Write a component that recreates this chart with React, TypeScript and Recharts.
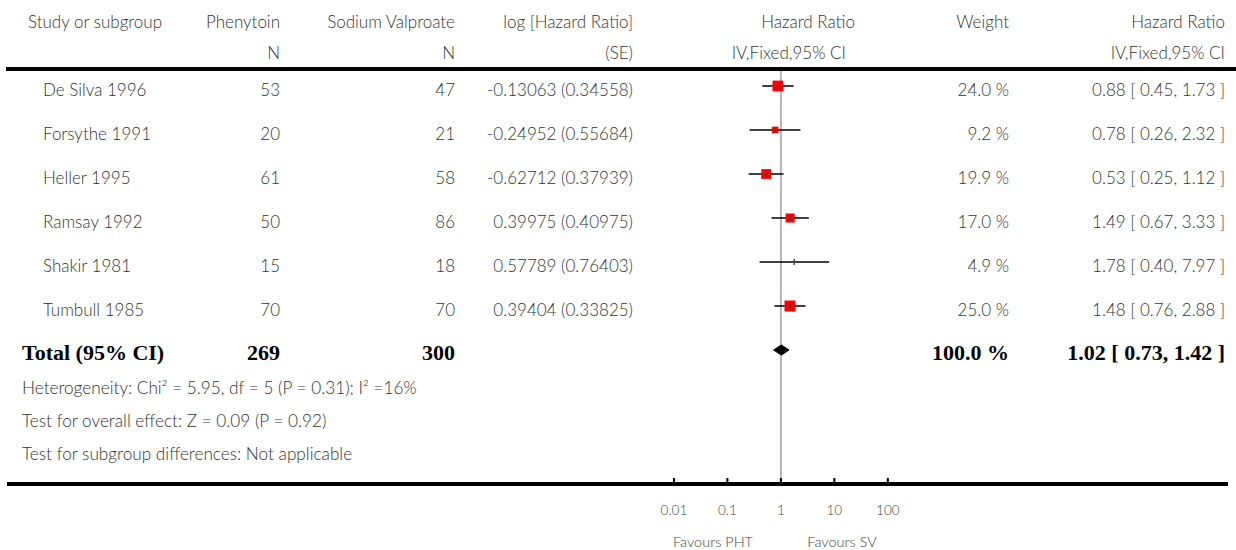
import React from "react";
import { ComposedChart, Scatter, Area, XAxis, YAxis, ErrorBar, ReferenceLine } from "recharts";

// per-study values
const studies = ["De Silva 1996", "Forsythe 1991", "Heller 1995", "Ramsay 1992", "Shakir 1981", "Tumbull 1985"];
const phenytoinN = [53, 20, 61, 50, 15, 70];
const valproateN = [47, 21, 58, 86, 18, 70];
const logHazard = ["-0.13063", "-0.24952", "-0.62712", "0.39975", "0.57789", "0.39404"];
const logHazardSE = ["0.34558", "0.55684", "0.37939", "0.40975", "0.76403", "0.33825"];
const weights = [24.0, 9.2, 19.9, 17.0, 4.9, 25.0];
const hazardRatio = [0.88, 0.78, 0.53, 1.49, 1.78, 1.48];
const ciLower = [0.45, 0.26, 0.25, 0.67, 0.4, 0.76];
const ciUpper = [1.73, 2.32, 1.12, 3.33, 7.97, 2.88];

// pooled result
const totalN = [269, 300];
const totalWeight = 100.0;
const totalHR = 1.02;
const totalLower = 0.73;
const totalUpper = 1.42;

const axisTicks = [0.01, 0.1, 1, 10, 100];

const footnotes = [
  "Heterogeneity: Chi\u00b2 = 5.95, df = 5 (P = 0.31); I\u00b2 =16%",
  "Test for overall effect: Z = 0.09 (P = 0.92)",
  "Test for subgroup differences: Not applicable",
];

const W = 1236;
const H = 550;
const SANS = "Lato, 'Open Sans', sans-serif";
const SERIF = "'Liberation Serif', 'DejaVu Serif', serif";
const INK = "#333";

// column anchors (px)
const COL_PHT = 280;
const COL_SV = 455;
const COL_LOG = 633;
const COL_WT = 1009;
const COL_HR = 1225;

const fmt = (v: number) => v.toFixed(2);

const studyPoints = studies.map((s, i) => {
  const x = Math.log10(hazardRatio[i]);
  return {
    x,
    y: i,
    w: weights[i],
    err: [x - Math.log10(ciLower[i]), Math.log10(ciUpper[i]) - x],
  };
});

const totalRow = studies.length;
const diamond = [
  { x: Math.log10(totalLower), d: [totalRow, totalRow] },
  { x: Math.log10(totalHR), d: [totalRow - 0.115, totalRow + 0.115] },
  { x: Math.log10(totalUpper), d: [totalRow, totalRow] },
];

const Box = (props: any) => {
  const { cx, cy, payload } = props;
  if (payload.w < 5) return <g />;
  const s = 2.2 * Math.sqrt(payload.w);
  return <rect x={cx - s / 2} y={cy - s / 2} width={s} height={s} fill="#ff0000" />;
};

const Mid = (props: any) => {
  const { cx, cy } = props;
  return <line x1={cx} x2={cx} y1={cy - 3} y2={cy + 3} stroke="#444" strokeWidth={1.5} />;
};

const RowTick = (props: any) => {
  const { y, payload } = props;
  const i = payload.value;
  const base = y + 10;
  if (i < studies.length) {
    return (
      <g fontFamily={SANS} fontSize={17} fontWeight={300} fill={INK}>
        <text x={43} y={base}>{studies[i]}</text>
        <text x={COL_PHT} y={base} textAnchor="end">{phenytoinN[i]}</text>
        <text x={COL_SV} y={base} textAnchor="end">{valproateN[i]}</text>
        <text x={COL_LOG} y={base} textAnchor="end">{`${logHazard[i]} (${logHazardSE[i]})`}</text>
        <text x={COL_WT} y={base} textAnchor="end">{`${weights[i].toFixed(1)} %`}</text>
        <text x={COL_HR} y={base} textAnchor="end">
          {`${fmt(hazardRatio[i])} [ ${fmt(ciLower[i])}, ${fmt(ciUpper[i])} ]`}
        </text>
      </g>
    );
  }
  return (
    <g fontFamily={SERIF} fontSize={22} fontWeight="bold" fill="#000">
      <text x={22} y={base}>Total (95% CI)</text>
      <text x={COL_PHT} y={base} textAnchor="end">{totalN[0]}</text>
      <text x={COL_SV} y={base} textAnchor="end">{totalN[1]}</text>
      <text x={COL_WT} y={base} textAnchor="end">{`${totalWeight.toFixed(1)} %`}</text>
      <text x={COL_HR} y={base} textAnchor="end">
        {`${fmt(totalHR)} [ ${fmt(totalLower)}, ${fmt(totalUpper)} ]`}
      </text>
    </g>
  );
};

const LogTick = (props: any) => {
  const { x, y, index } = props;
  return (
    <g>
      <line x1={x} x2={x} y1={y - 6} y2={y} stroke="#000" strokeWidth={2} />
      <text x={x} y={y + 31} textAnchor="middle" fontFamily={SANS} fontWeight={300} fontSize={13.5} fill="#444">
        {String(axisTicks[index])}
      </text>
    </g>
  );
};

export default function App() {
  return (
    <div style={{ position: "fixed", left: 0, top: 0, width: W, height: H, background: "#fff" }}>
      <ComposedChart width={W} height={H} margin={{ top: 69, right: 8, left: 6, bottom: 0 }}>
        <XAxis
          type="number"
          dataKey="x"
          domain={[-14.47, 8.36]}
          allowDataOverflow
          ticks={axisTicks.map((t) => Math.log10(t))}
          interval={0}
          height={66}
          tickSize={0}
          tickMargin={0}
          tickLine={false}
          axisLine={{ stroke: "#000", strokeWidth: 4 }}
          tick={<LogTick />}
        />
        <YAxis
          type="number"
          dataKey="y"
          domain={[-0.3864, 9.045]}
          allowDataOverflow
          reversed
          width={1}
          ticks={[0, 1, 2, 3, 4, 5, 6]}
          interval={0}
          axisLine={false}
          tickLine={false}
          tick={<RowTick />}
        />
        <ReferenceLine x={0} stroke="#b4b4b4" strokeWidth={2} zIndex={-10} />
        <Area
          data={diamond}
          dataKey="d"
          type="linear"
          stroke="#000"
          strokeWidth={1}
          fill="#000"
          fillOpacity={1}
          dot={false}
          activeDot={false}
          isAnimationActive={false}
          zIndex={650}
        />
        <Scatter data={studyPoints} shape={<Box />} isAnimationActive={false} />
        <Scatter data={studyPoints} shape={<Mid />} isAnimationActive={false}>
          <ErrorBar dataKey="err" direction="x" width={0} stroke="#000" strokeWidth={1.5} />
        </Scatter>
      </ComposedChart>
      <svg
        width={W}
        height={H}
        style={{ position: "absolute", left: 0, top: 0, pointerEvents: "none" }}
        fontFamily={SANS}
        fontWeight={300}
        fill={INK}
      >
        <g fontSize={17}>
          <text x={28} y={28}>Study or subgroup</text>
          <text x={COL_PHT} y={28} textAnchor="end">Phenytoin</text>
          <text x={COL_PHT} y={59} textAnchor="end">N</text>
          <text x={COL_SV} y={28} textAnchor="end">Sodium Valproate</text>
          <text x={COL_SV} y={59} textAnchor="end">N</text>
          <text x={COL_LOG} y={28} textAnchor="end">log [Hazard Ratio]</text>
          <text x={COL_LOG} y={59} textAnchor="end">(SE)</text>
          <text x={855} y={28} textAnchor="end">Hazard Ratio</text>
          <text x={846} y={59} textAnchor="end">IV,Fixed,95% CI</text>
          <text x={COL_WT} y={28} textAnchor="end">Weight</text>
          <text x={COL_HR} y={28} textAnchor="end">Hazard Ratio</text>
          <text x={COL_HR} y={59} textAnchor="end">IV,Fixed,95% CI</text>
        </g>
        <line x1={6} x2={W} y1={69} y2={69} stroke="#000" strokeWidth={4} />
        <g fontSize={17.2}>
          {footnotes.map((t, k) => (
            <text key={k} x={22} y={394 + k * 33}>{t}</text>
          ))}
        </g>
        <g fontSize={14.5} fill="#444">
          <text x={713} y={547} textAnchor="middle">Favours PHT</text>
          <text x={842} y={547} textAnchor="middle">Favours SV</text>
        </g>
      </svg>
    </div>
  );
}
